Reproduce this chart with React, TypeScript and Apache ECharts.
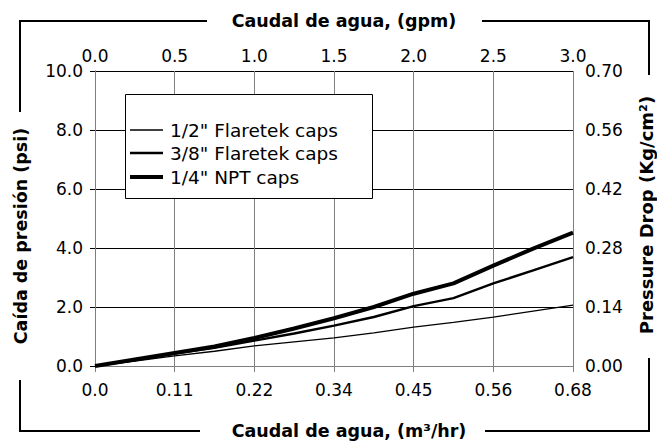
import React, { useEffect, useRef } from "react";
import * as echarts from "echarts";

const flowGpm = [0, 0.25, 0.5, 0.75, 1.0, 1.25, 1.5, 1.75, 2.0, 2.25, 2.5, 2.75, 3.0];
const halfFlaretek = [0, 0.17, 0.34, 0.5, 0.68, 0.82, 0.95, 1.12, 1.32, 1.48, 1.66, 1.86, 2.06];
const threeEighthFlaretek = [0, 0.2, 0.42, 0.62, 0.86, 1.1, 1.37, 1.66, 2.03, 2.3, 2.8, 3.24, 3.69];
const quarterNpt = [0, 0.22, 0.44, 0.66, 0.95, 1.27, 1.62, 2.0, 2.45, 2.8, 3.4, 3.98, 4.52];

const seriesNames = ['1/2" Flaretek caps', '3/8" Flaretek caps', '1/4" NPT caps'];
const topTickLabels = ["0.0", "0.5", "1.0", "1.5", "2.0", "2.5", "3.0"];
const bottomTickLabels = ["0.0", "0.11", "0.22", "0.34", "0.45", "0.56", "0.68"];
const leftTickLabels = ["0.0", "2.0", "4.0", "6.0", "8.0", "10.0"];
const rightTickLabels = ["0.00", "0.14", "0.28", "0.42", "0.56", "0.70"];

const FONT = "DejaVu Sans";

export default function App() {
  const ref = useRef<HTMLDivElement>(null);
  useEffect(() => {
    if (!ref.current) return;
    const chart = echarts.init(ref.current, undefined, { renderer: "svg" });
    const mk = (vals: number[]) => flowGpm.map((x, i) => [x, vals[i]]);
    const widths = [1.3, 2.4, 4];
    const allVals = [halfFlaretek, threeEighthFlaretek, quarterNpt];
    const idxX = (v: number) => Math.round(v / 0.5);
    const idxY = (v: number) => Math.round(v / 2);
    const frame = { stroke: "#000", lineWidth: 2 };
    const line = (x1: number, y1: number, x2: number, y2: number) => ({
      type: "line",
      shape: { x1, y1, x2, y2 },
      style: frame,
      silent: true,
    });
    const legendRows = [130, 153, 177];
    chart.setOption({
      animation: false,
      grid: { left: 95, right: 84, top: 71, bottom: 79 },
      xAxis: [
        {
          type: "value",
          position: "bottom",
          min: 0,
          max: 3,
          interval: 0.5,
          axisLine: { show: true, lineStyle: { color: "#000", width: 1 } },
          axisTick: { show: true, length: 6, lineStyle: { color: "#7f7f7f" } },
          axisLabel: {
            margin: 15,
            color: "#000",
            fontFamily: FONT,
            fontSize: 17,
            formatter: (v: number) => bottomTickLabels[idxX(v)] ?? "",
          },
          splitLine: { show: true, lineStyle: { color: "#7f7f7f", width: 1 } },
        },
        {
          type: "value",
          position: "top",
          min: 0,
          max: 3,
          interval: 0.5,
          axisLine: { show: true, lineStyle: { color: "#7f7f7f", width: 1 } },
          axisTick: { show: false },
          axisLabel: {
            margin: 7,
            color: "#000",
            fontFamily: FONT,
            fontSize: 17,
            formatter: (v: number) => topTickLabels[idxX(v)] ?? "",
          },
          splitLine: { show: false },
        },
      ],
      yAxis: [
        {
          type: "value",
          position: "left",
          min: 0,
          max: 10,
          interval: 2,
          axisLine: { show: true, lineStyle: { color: "#7f7f7f", width: 1 } },
          axisTick: { show: true, length: 5, lineStyle: { color: "#000" } },
          axisLabel: {
            margin: 12,
            color: "#000",
            fontFamily: FONT,
            fontSize: 17,
            formatter: (v: number) => leftTickLabels[idxY(v)] ?? "",
          },
          splitLine: { show: true, lineStyle: { color: "#000", width: 1 } },
        },
        {
          type: "value",
          position: "right",
          min: 0,
          max: 10,
          interval: 2,
          axisLine: { show: true, lineStyle: { color: "#7f7f7f", width: 1 } },
          axisTick: { show: false },
          axisLabel: {
            margin: 12,
            color: "#000",
            fontFamily: FONT,
            fontSize: 17,
            formatter: (v: number) => rightTickLabels[idxY(v)] ?? "",
          },
          splitLine: { show: false },
        },
      ],
      series: allVals.map((vals, i) => ({
        name: seriesNames[i],
        type: "line",
        xAxisIndex: 0,
        yAxisIndex: 0,
        data: mk(vals),
        symbol: "none",
        smooth: false,
        lineStyle: { color: "#000", width: widths[i] },
        z: 2 + i,
      })),
      graphic: [
        line(20, 21, 207, 21),
        line(482, 21, 649, 21),
        line(20, 20, 20, 112),
        line(20, 380, 20, 432),
        line(19, 431, 200, 431),
        line(485, 431, 650, 431),
        line(649, 20, 649, 75),
        line(649, 358, 649, 432),
        {
          type: "text",
          x: 344,
          y: 21,
          style: {
            text: "Caudal de agua, (gpm)",
            fontFamily: FONT,
            fontSize: 17.5,
            fontWeight: "bold",
            fill: "#000",
            align: "center",
            verticalAlign: "middle",
          },
        },
        {
          type: "text",
          x: 349,
          y: 431,
          style: {
            text: "Caudal de agua, (m³/hr)",
            fontFamily: FONT,
            fontSize: 17.5,
            fontWeight: "bold",
            fill: "#000",
            align: "center",
            verticalAlign: "middle",
          },
        },
        {
          type: "text",
          x: 21,
          y: 236,
          rotation: Math.PI / 2,
          style: {
            text: "Caída de presión (psi)",
            fontFamily: FONT,
            fontSize: 17.5,
            fontWeight: "bold",
            fill: "#000",
            align: "center",
            verticalAlign: "middle",
          },
        },
        {
          type: "text",
          x: 646,
          y: 215,
          rotation: Math.PI / 2,
          style: {
            text: "Pressure Drop (Kg/cm²)",
            fontFamily: FONT,
            fontSize: 18,
            fontWeight: "bold",
            fill: "#000",
            align: "center",
            verticalAlign: "middle",
          },
        },
        {
          type: "rect",
          z: 10,
          shape: { x: 125.5, y: 94.5, width: 247, height: 104 },
          style: { fill: "#fff", stroke: "#000", lineWidth: 1 },
        },
        ...seriesNames.flatMap((name, i) => [
          {
            type: "line",
            z: 11,
            shape: { x1: 130, y1: legendRows[i], x2: 163, y2: legendRows[i] },
            style: { stroke: "#000", lineWidth: widths[i] },
          },
          {
            type: "text",
            z: 11,
            x: 170,
            y: legendRows[i],
            style: {
              text: name,
              fontFamily: FONT,
              fontSize: 18.5,
              fill: "#000",
              align: "left",
              verticalAlign: "middle",
            },
          },
        ]),
      ],
    });
    return () => chart.dispose();
  }, []);
  return (
    <div
      ref={ref}
      style={{ position: "absolute", left: 0, top: 0, width: 657, height: 445, background: "#fff" }}
    />
  );
}
